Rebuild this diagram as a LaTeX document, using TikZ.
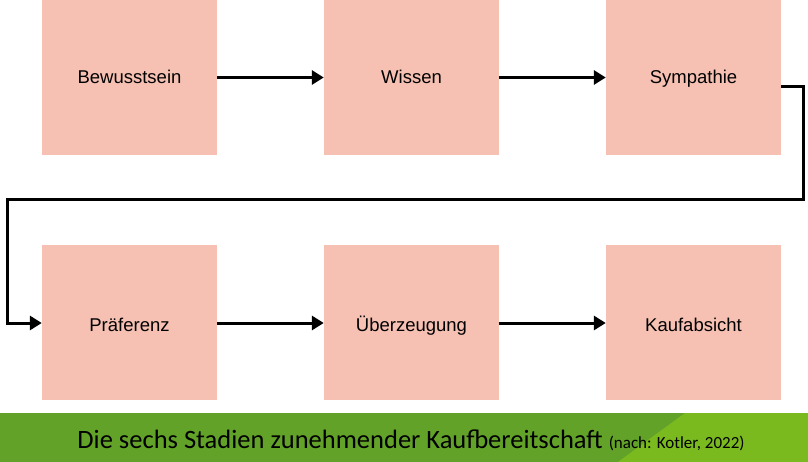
\documentclass[tikz,border=0pt]{standalone}
\usepackage{fontspec}
\setmainfont{Liberation Sans}
\newfontfamily\carlito{Carlito}
\usetikzlibrary{arrows.meta}
\definecolor{boxfill}{HTML}{F6C1B2}
\definecolor{bandA}{HTML}{62A228}
\definecolor{bandB}{HTML}{7BBA1F}
\begin{document}
\begin{tikzpicture}[x=1pt,y=-1pt,
  stage/.style={fill=boxfill,minimum width=175pt,minimum height=155pt,inner sep=0pt,font=\fontsize{18.5}{22}\selectfont},
  lbl/.style={anchor=base,inner sep=0pt,font=\fontsize{18.5}{22}\selectfont},
  conn/.style={line width=3pt,-{Triangle[length=12pt,width=14pt]}}]
\useasboundingbox (0,0) rectangle (808,462);
\fill[bandA] (0,413) rectangle (808,462);
\fill[bandB] (685,413) -- (808,413) -- (808,462) -- (618,462) -- cycle;
\node[stage] (b1) at (129.5,77.5) {};
\node[stage] (b2) at (411.5,77.5) {};
\node[stage] (b3) at (693.5,77.5) {};
\node[stage] (b4) at (129.5,322.5) {};
\node[stage] (b5) at (411.5,322.5) {};
\node[stage] (b6) at (693.5,322.5) {};
\node[lbl] (t1) at (129.5,84) {Bewusstsein};
\node[lbl] (t2) at (411.5,84) {Wissen};
\node[lbl] (t3) at (693.5,84) {Sympathie};
\node[lbl] (t4) at (129.5,331) {Präferenz};
\node[lbl] (t5) at (411.5,331) {Überzeugung};
\node[lbl] (t6) at (693.5,331) {Kaufabsicht};
\coordinate (c1) at (803,87);
\coordinate (c2) at (803,200);
\coordinate (c3) at (7,200);
\coordinate (c4) at (7,323);
\draw[conn] (b1) -- (b2);
\draw[conn] (b2) -- (b3);
\draw[conn] (b3.east |- c1) -- (c1) -- (c2) -- (c3) -- (c4) -- (b4.west |- c4);
\draw[conn] (b4.east |- c4) -- (b5.west |- c4);
\draw[conn] (b5.east |- c4) -- (b6.west |- c4);
\node[font=\carlito\fontsize{26.5}{30}\selectfont,anchor=base] (cap) at (411,448) {Die sechs Stadien zunehmender Kaufbereitschaft {\fontsize{17}{20}\selectfont (nach: Kotler, 2022)}};
\end{tikzpicture}
\end{document}
